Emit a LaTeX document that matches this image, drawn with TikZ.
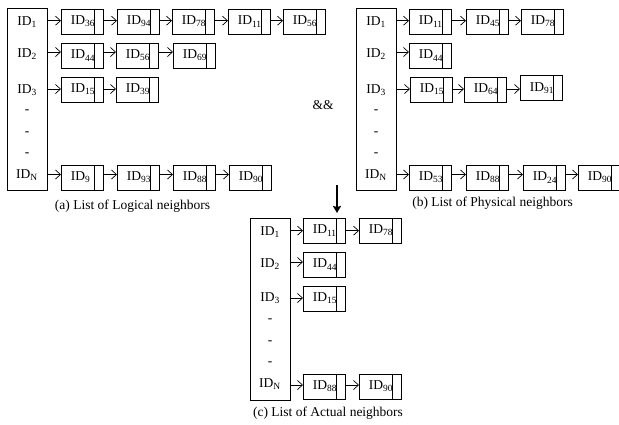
\documentclass[tikz,border=0pt]{standalone}
\usepackage{fontspec}
\setmainfont{Liberation Serif}
\usetikzlibrary{arrows.meta}
\newcommand\cellid[1]{\makebox[42pt][l]{\hspace{9.5pt}ID\textsubscript{#1}}}
\begin{document}
\begin{tikzpicture}[x=1pt,y=-1pt,
  every node/.style={font=\fontsize{13.5}{15}\selectfont},
  lst/.style={draw, line width=0.7pt, minimum width=40pt, inner sep=0pt, anchor=north west},
  lbl/.style={anchor=base, inner sep=0pt},
  cell/.style={draw, line width=0.7pt, minimum width=42pt, minimum height=25pt, inner sep=0pt, anchor=west,
    path picture={\draw[line width=0.7pt] ([xshift=-9pt]path picture bounding box.north east) -- ([xshift=-9pt]path picture bounding box.south east);}},
  link/.style={-{Straight Barb[length=5pt,width=9pt]}, line width=0.7pt},
  captxt/.style={anchor=base, inner sep=0pt}]
\useasboundingbox (0,0) rectangle (619,424);

% ---------------- (a) ----------------
\node[lst, minimum height=182pt] (LA) at (7,8) {};
\node[lbl] (la1) at (27,25.5) {ID\textsubscript{1}};
\node[lbl] (la2) at (27,57) {ID\textsubscript{2}};
\node[lbl] (la3) at (27,93.5) {ID\textsubscript{3}};
\node[lbl] (lad1) at (27,113) {-};
\node[lbl] (lad2) at (27,135) {-};
\node[lbl] (lad3) at (27,156) {-};
\node[lbl] (laN) at (27,178.5) {ID\textsubscript{N}};

\node[cell] (A11) at (61,21.5) {\cellid{36}};
\node[cell] (A12) at (117,21.5) {\cellid{94}};
\node[cell] (A13) at (172,21.5) {\cellid{78}};
\node[cell] (A14) at (228,21.5) {\cellid{11}};
\node[cell] (A15) at (283,21.5) {\cellid{56}};
\node[cell] (A21) at (61,55.5) {\cellid{44}};
\node[cell] (A22) at (116,55.5) {\cellid{56}};
\node[cell] (A23) at (173,55.5) {\cellid{69}};
\node[cell] (A31) at (61,89.5) {\cellid{15}};
\node[cell] (A32) at (116,89.5) {\cellid{39}};
\node[cell] (AN1) at (61,177.5) {\cellid{9}};
\node[cell] (AN2) at (117,177.5) {\cellid{93}};
\node[cell] (AN3) at (173,177.5) {\cellid{88}};
\node[cell] (AN4) at (229,177.5) {\cellid{90}};

\coordinate (ya1) at (0,20.7);
\coordinate (ya2) at (0,52);
\coordinate (ya3) at (0,89);
\coordinate (yaN) at (0,174.5);
\draw[link] (LA.east |- ya1) -- (A11.west |- ya1);
\draw[link] (LA.east |- ya2) -- (A21.west |- ya2);
\draw[link] (LA.east |- ya3) -- (A31.west |- ya3);
\draw[link] (LA.east |- yaN) -- (AN1.west |- yaN);
\draw[link] (A11.east |- ya1) -- (A12.west |- ya1);
\draw[link] (A12.east |- ya1) -- (A13.west |- ya1);
\draw[link] (A13.east |- ya1) -- (A14.west |- ya1);
\draw[link] (A14.east |- ya1) -- (A15.west |- ya1);
\draw[link] (A21.east |- ya2) -- (A22.west |- ya2);
\draw[link] (A22.east |- ya2) -- (A23.west |- ya2);
\draw[link] (A31.east |- ya3) -- (A32.west |- ya3);
\draw[link] (AN1.east |- yaN) -- (AN2.west |- yaN);
\draw[link] (AN2.east |- yaN) -- (AN3.west |- yaN);
\draw[link] (AN3.east |- yaN) -- (AN4.west |- yaN);

\node[captxt] (capA) at (132.5,209.5) {(a) List of Logical neighbors};

% ---------------- && ----------------
\node[captxt] (amp) at (323,109.5) {\&\&};

% ---------------- (b) ----------------
\node[lst, minimum height=182pt] (LB) at (356,8) {};
\node[lbl] (lb1) at (376,25.5) {ID\textsubscript{1}};
\node[lbl] (lb2) at (376,57) {ID\textsubscript{2}};
\node[lbl] (lb3) at (376,93.5) {ID\textsubscript{3}};
\node[lbl] (lbd1) at (376,113) {-};
\node[lbl] (lbd2) at (376,135) {-};
\node[lbl] (lbd3) at (376,156) {-};
\node[lbl] (lbN) at (376,178.5) {ID\textsubscript{N}};

\node[cell] (B11) at (409,21.5) {\cellid{11}};
\node[cell] (B12) at (466,21.5) {\cellid{45}};
\node[cell] (B13) at (521,21.5) {\cellid{78}};
\node[cell] (B21) at (409,55.5) {\cellid{44}};
\node[cell] (B31) at (410,89.5) {\cellid{15}};
\node[cell] (B32) at (464,89.5) {\cellid{64}};
\node[cell] (B33) at (520,88) {\cellid{91}};
\node[cell] (BN1) at (409,177.5) {\cellid{53}};
\node[cell] (BN2) at (466,177.5) {\cellid{88}};
\node[cell] (BN3) at (523,177.5) {\cellid{24}};
\node[cell] (BN4) at (578,177.5) {\cellid{90}};

\coordinate (yb1) at (0,20.7);
\coordinate (yb2) at (0,52);
\coordinate (yb3) at (0,89);
\coordinate (ybN) at (0,174.5);
\draw[link] (LB.east |- yb1) -- (B11.west |- yb1);
\draw[link] (LB.east |- yb2) -- (B21.west |- yb2);
\draw[link] (LB.east |- yb3) -- (B31.west |- yb3);
\draw[link] (LB.east |- ybN) -- (BN1.west |- ybN);
\draw[link] (B11.east |- yb1) -- (B12.west |- yb1);
\draw[link] (B12.east |- yb1) -- (B13.west |- yb1);
\draw[link] (B31.east |- yb3) -- (B32.west |- yb3);
\draw[link] (B32.east |- yb3) -- (B33.west |- yb3);
\draw[link] (BN1.east |- ybN) -- (BN2.west |- ybN);
\draw[link] (BN2.east |- ybN) -- (BN3.west |- ybN);
\draw[link] (BN3.east |- ybN) -- (BN4.west |- ybN);

\node[captxt] (capB) at (492.5,206.5) {(b) List of Physical neighbors};

% ---------------- big arrow ----------------
\coordinate (arrS) at (337,185);
\coordinate (arrE) at (337,213);
\draw[line width=2pt, -{Stealth[length=7pt,width=8pt,inset=1pt]}] (arrS) -- (arrE);

% ---------------- (c) ----------------
\node[lst, minimum height=182pt] (LC) at (250,217.5) {};
\node[lbl] (lc1) at (270,235) {ID\textsubscript{1}};
\node[lbl] (lc2) at (270,267.5) {ID\textsubscript{2}};
\node[lbl] (lc3) at (270,301.5) {ID\textsubscript{3}};
\node[lbl] (lcd1) at (270,322) {-};
\node[lbl] (lcd2) at (270,344) {-};
\node[lbl] (lcd3) at (270,365) {-};
\node[lbl] (lcN) at (270,387.5) {ID\textsubscript{N}};

\node[cell] (C11) at (303,230.5) {\cellid{11}};
\node[cell] (C12) at (359,230.5) {\cellid{78}};
\node[cell] (C21) at (303,264.5) {\cellid{44}};
\node[cell] (C31) at (303,298.5) {\cellid{15}};
\node[cell] (CN1) at (303,386.5) {\cellid{88}};
\node[cell] (CN2) at (359,386.5) {\cellid{90}};

\coordinate (yc1) at (0,230.7);
\coordinate (yc2) at (0,262);
\coordinate (yc3) at (0,298);
\coordinate (ycN) at (0,385);
\draw[link] (LC.east |- yc1) -- (C11.west |- yc1);
\draw[link] (LC.east |- yc2) -- (C21.west |- yc2);
\draw[link] (LC.east |- yc3) -- (C31.west |- yc3);
\draw[link] (LC.east |- ycN) -- (CN1.west |- ycN);
\draw[link] (C11.east |- yc1) -- (C12.west |- yc1);
\draw[link] (CN1.east |- ycN) -- (CN2.west |- ycN);

\node[captxt] (capC) at (328,416) {(c) List of Actual neighbors};
\end{tikzpicture}
\end{document}
